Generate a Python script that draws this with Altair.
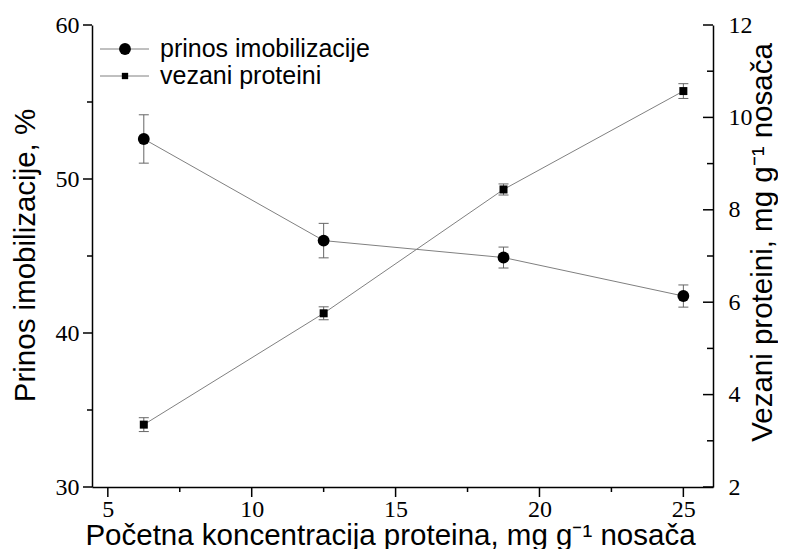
import altair as alt
import pandas as pd

# ---- data ----
conc = [6.25, 12.5, 18.75, 25.0]
prinos = [52.6, 46.0, 44.9, 42.4]
prinos_err = [1.57, 1.12, 0.68, 0.72]
vezani = [3.35, 5.76, 8.44, 10.57]
vezani_err = [0.15, 0.14, 0.12, 0.16]

x_major = [5, 10, 15, 20, 25]
x_minor = [7.5, 12.5, 17.5, 22.5]
yl_major = [30, 40, 50, 60]
yl_minor = [35, 45, 55]
yr_major = [2, 4, 6, 8, 10, 12]
yr_minor = [3, 5, 7, 9, 11]

legend_labels = ["prinos imobilizacije", "vezani proteini"]

x_title = "Početna koncentracija proteina, mg g⁻¹ nosača"
yl_title = "Prinos imobilizacije, %"
yr_title = "Vezani proteini, mg g⁻¹ nosača"

df1 = pd.DataFrame({"x": conc, "y": prinos,
                    "lo": [v - e for v, e in zip(prinos, prinos_err)],
                    "hi": [v + e for v, e in zip(prinos, prinos_err)]})
df2 = pd.DataFrame({"x": conc, "y": vezani,
                    "lo": [v - e for v, e in zip(vezani, vezani_err)],
                    "hi": [v + e for v, e in zip(vezani, vezani_err)]})

W, H = 621, 462
xs = alt.Scale(domain=[4.45, 26.03], nice=False, zero=False)
yls = alt.Scale(domain=[30, 60], nice=False, zero=False)
yrs = alt.Scale(domain=[2, 12], nice=False, zero=False)

SERIF = "Liberation Serif"
SANS = "Liberation Sans"
LINE_C = "#808080"
ERR_C = "#666666"
LBL = 24

x_axis = alt.Axis(orient="bottom", values=x_major, ticks=False,
                  domainWidth=1.5, domainColor="black",
                  labelFont=SERIF, labelFontSize=LBL, labelColor="black",
                  labelPadding=10, grid=False, format="d",
                  title=x_title, titleFont=SANS, titleFontSize=29.5,
                  titleFontWeight="normal", titleColor="black",
                  titleX=298, titleY=57, titleBaseline="alphabetic", titleAlign="center")

yl_axis = alt.Axis(orient="left", values=yl_major, ticks=False,
                   domainWidth=1.5, domainColor="black",
                   labelFont=SERIF, labelFontSize=LBL, labelColor="black",
                   labelPadding=13, grid=False,
                   title=yl_title, titleFont=SANS, titleFontSize=29.5,
                   titleFontWeight="normal", titleColor="black",
                   titleAngle=270, titleX=-67, titleY=230, titleBaseline="middle",
                   titleAlign="center")

yr_axis = alt.Axis(orient="right", values=yr_major, ticks=False,
                   domainWidth=1.5, domainColor="black",
                   labelFont=SERIF, labelFontSize=LBL, labelColor="black",
                   labelPadding=15, grid=False,
                   title=yr_title, titleFont=SANS, titleFontSize=29.5,
                   titleFontWeight="normal", titleColor="black",
                   titleAngle=270, titleX=49, titleY=217, titleBaseline="middle",
                   titleAlign="center")

X = lambda ax: alt.X("x:Q", scale=xs, axis=ax)

# series 1 (left axis)
l1 = alt.Chart(df1).mark_line(color=LINE_C, strokeWidth=1).encode(
    x=X(x_axis), y=alt.Y("y:Q", scale=yls, axis=yl_axis))
e1 = alt.Chart(df1).mark_rule(color=ERR_C, strokeWidth=1).encode(
    x=X(None), y=alt.Y("lo:Q", scale=yls, axis=None), y2="hi:Q")
c1a = alt.Chart(df1).mark_tick(orient="horizontal", size=10, thickness=1, color=ERR_C, opacity=1).encode(
    x=X(None), y=alt.Y("lo:Q", scale=yls, axis=None))
c1b = alt.Chart(df1).mark_tick(orient="horizontal", size=10, thickness=1, color=ERR_C, opacity=1).encode(
    x=X(None), y=alt.Y("hi:Q", scale=yls, axis=None))
p1 = alt.Chart(df1).mark_point(shape="circle", filled=True, size=140, color="black", opacity=1).encode(
    x=X(None), y=alt.Y("y:Q", scale=yls, axis=None))

# series 2 (right axis)
l2 = alt.Chart(df2).mark_line(color=LINE_C, strokeWidth=1).encode(
    x=X(None), y=alt.Y("y:Q", scale=yrs, axis=yr_axis))
e2 = alt.Chart(df2).mark_rule(color=ERR_C, strokeWidth=1).encode(
    x=X(None), y=alt.Y("lo:Q", scale=yrs, axis=None), y2="hi:Q")
c2a = alt.Chart(df2).mark_tick(orient="horizontal", size=10, thickness=1, color=ERR_C, opacity=1).encode(
    x=X(None), y=alt.Y("lo:Q", scale=yrs, axis=None))
c2b = alt.Chart(df2).mark_tick(orient="horizontal", size=10, thickness=1, color=ERR_C, opacity=1).encode(
    x=X(None), y=alt.Y("hi:Q", scale=yrs, axis=None))
p2 = alt.Chart(df2).mark_point(shape="square", filled=True, size=64, color="black", opacity=1).encode(
    x=X(None), y=alt.Y("y:Q", scale=yrs, axis=None))

# axis tick marks, drawn as tick marks through the same scales
def xticks(vals, length):
    return alt.Chart(pd.DataFrame({"tv": vals})).mark_tick(
        orient="vertical", size=length, thickness=1.5, color="black", opacity=1).encode(
        x=alt.X("tv:Q", scale=xs, axis=None), y=alt.value(H + length / 2))

def yticks(vals, scale, xc, length):
    return alt.Chart(pd.DataFrame({"tv": vals})).mark_tick(
        orient="horizontal", size=length, thickness=1.5, color="black", opacity=1).encode(
        y=alt.Y("tv:Q", scale=scale, axis=None), x=alt.value(xc))

tick_layers = [
    xticks(x_major, 10), xticks(x_minor, 5),
    yticks(yl_major, yls, -4.5, 9), yticks(yl_minor, yls, -2.5, 5),
    yticks(yr_major, yrs, W - 5, 10), yticks(yr_minor, yrs, W - 3, 6),
]

# legend (inside plot, top-left)
leg_rows = [(legend_labels[0], "circle", 140, 24), (legend_labels[1], "square", 40, 51)]
legend_layers = []
for label, shape, sz, ly in leg_rows:
    d = pd.DataFrame({"label": [label]})
    legend_layers.append(alt.Chart(d).mark_rule(color=LINE_C, strokeWidth=1).encode(
        x=alt.value(8), x2=alt.value(57), y=alt.value(ly)))
    legend_layers.append(alt.Chart(d).mark_point(shape=shape, filled=True, size=sz,
                                                 color="black", opacity=1).encode(
        x=alt.value(33), y=alt.value(ly)))
    legend_layers.append(alt.Chart(d).mark_text(align="left", baseline="middle", font=SANS,
                                                fontSize=25, color="black").encode(
        x=alt.value(68), y=alt.value(ly), text="label:N"))

chart = alt.layer(l1, e1, c1a, c1b, p1, l2, e2, c2a, c2b, p2, *tick_layers, *legend_layers).resolve_scale(
    x="independent", y="independent").resolve_axis(x="independent", y="independent").properties(
    width=W, height=H, autosize="none",
    padding={"left": 84, "top": 17, "right": 65, "bottom": 62},
    background="white"
).configure_view(stroke=None)

chart.save("out.html", embed_options={"renderer": "svg", "actions": False})
